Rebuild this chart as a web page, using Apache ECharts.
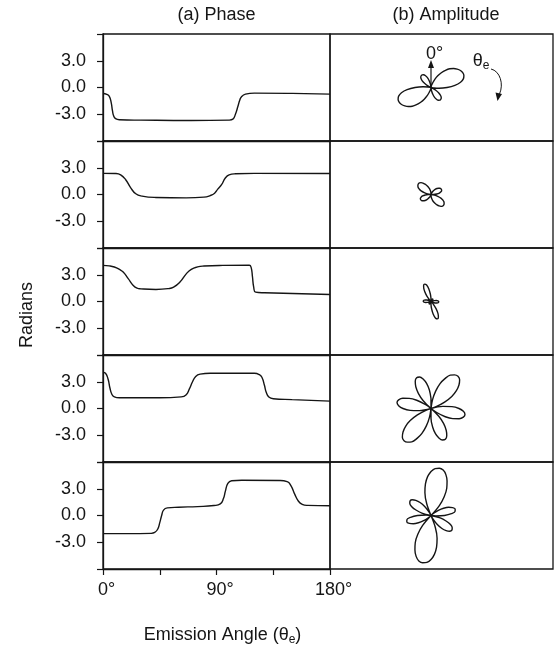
<!DOCTYPE html>
<html>
<head>
<meta charset="utf-8">
<script src="https://cdn.jsdelivr.net/npm/echarts@6/dist/echarts.min.js"></script>
<style>
html, body { margin: 0; padding: 0; background: #fff; }
#chart { width: 554px; height: 651px; }
</style>
</head>
<body>
<div id="chart"></div>
<script>
// 相位曲线：[出射角 (度), 相位 (弧度)]
const phase1 = [[0, -0.68], [3, -0.78], [5, -1.0], [6.5, -1.7], [7.5, -2.6], [8.5, -3.2], [10, -3.5], [13, -3.62],
    [30, -3.66], [70, -3.7], [100, -3.66], [103, -3.55], [105, -3.0], [107, -2.1], [108.5, -1.4], [110, -1.0],
    [113, -0.75], [120, -0.63], [150, -0.66], [180, -0.74]];
const phase2 = [[0, 2.37], [10, 2.35], [14, 2.2], [18, 1.65], [22, 0.75], [26, 0.08], [31, -0.18], [42, -0.33],
    [66, -0.38], [80, -0.3], [85, -0.12], [88.5, 0.15], [91, 0.6], [94, 1.1], [97, 1.85], [100, 2.2], [105, 2.32],
    [120, 2.37], [180, 2.36]];
const phase3 = [[0, 4.05], [5, 4.0], [9, 3.87], [13, 3.6], [16, 3.3], [20, 2.56], [24, 1.8], [27, 1.5], [30, 1.42],
    [42, 1.35], [52, 1.45], [56, 1.62], [61, 2.18], [66, 3.1], [70, 3.6], [75, 3.88], [80, 3.98], [95, 4.05],
    [116, 4.07], [117.5, 3.8], [118.5, 2.8], [119.5, 1.6], [121, 1.05], [128, 0.98], [180, 0.79]];
const phase4 = [[0, 4.05], [2, 3.95], [4, 3.3], [5.5, 2.3], [7, 1.6], [9, 1.3], [13, 1.2], [45, 1.2], [62, 1.3],
    [66, 1.55], [68.5, 2.2], [71, 3.0], [73.5, 3.6], [77, 3.85], [85, 3.95], [120, 3.95], [124, 3.8], [126, 3.5],
    [128, 2.6], [129.5, 1.8], [131.5, 1.3], [135, 1.1], [150, 1.0], [180, 0.83]];
const phase5 = [[0, -2.03], [20, -2.03], [38, -2.0], [41, -1.9], [43.5, -1.5], [45, -0.8], [46.5, 0.0], [48, 0.6],
    [51, 0.85], [60, 0.93], [75, 1.0], [88, 1.12], [93, 1.3], [95.5, 1.9], [97, 2.7], [99, 3.6], [102, 3.9],
    [110, 3.95], [140, 3.92], [146, 3.8], [149, 3.35], [152, 2.4], [155, 1.6], [158, 1.25], [162, 1.13], [180, 1.09]];

// 振幅极坐标图：角度 0-175°，θ+180° 处取同样的值
const ampAngles = [0, 5, 10, 15, 20, 25, 30, 35, 40, 45, 50, 55, 60, 65, 70, 75, 80, 85,
    90, 95, 100, 105, 110, 115, 120, 125, 130, 135, 140, 145, 150, 155, 160, 165, 170, 175];
const amp1 = [0.5, 0, 1, 2.5, 5, 9, 13.5, 18, 22.5, 26.5, 29.5, 32, 34, 35, 35, 33.5, 30, 24,
    16, 8, 3, 1, 0, 2, 5.5, 9.5, 12.5, 14.5, 15.3, 15.5, 14.8, 13, 10.5, 7, 3.5, 1];
const amp2 = [1.3, 0.5, 0, 0.3, 0.8, 2, 3.5, 5.2, 7, 8.5, 9.8, 10.8, 11.4, 11.6, 11.3, 10.3, 8.5, 5.8,
    2.8, 0, 3.5, 7, 10.5, 13, 15, 16, 16.5, 16.3, 15.5, 14, 12, 10, 8, 6, 4, 2.5];
const amp3 = [3, 0, 0.3, 0.6, 1.2, 2, 2.6, 3, 3.2, 3, 2.5, 1.7, 0.8, 0, 1.5, 3.5, 5.5, 7,
    7.7, 7.8, 7.3, 6, 4.2, 2.3, 0.8, 0, 0.3, 0.8, 4, 9, 14, 17.5, 18.5, 17, 13, 7.5];
const amp4 = [10, 0, 9, 18, 26.5, 33, 38.5, 41, 42, 40.5, 36.5, 31, 24, 15, 6, 0, 12, 21,
    28, 32.5, 34.5, 33.5, 30, 24, 16.5, 7, 0, 11, 19.5, 26.5, 31.5, 34, 33.5, 30.5, 25.5, 18.5];
const amp5 = [44, 47, 48, 47, 43.5, 38, 31.5, 23, 13, 0, 4, 9, 14.5, 19.5, 23, 25, 24.5, 20.5,
    13.5, 5, 0, 9.5, 16, 21.5, 24.5, 25.5, 24.5, 21.5, 17, 11, 4.5, 0, 12.5, 23.5, 32, 39];

// 刻度标签
const yLabelValues = [-3, 0, 3];
const xLabelValues = [0, 90, 180];

const phaseRows = [phase1, phase2, phase3, phase4, phase5];
const ampRows = [amp1, amp2, amp3, amp4, amp5];

const FONT = '"Liberation Sans", Arial, Helvetica, sans-serif';
const INK = '#151515';
const TOP = 34;
const ROW_H = 107;

// 振幅数据转成极坐标 [r, θ]
function polarData(amp) {
    const data = [];
    for (let k = 0; k < 2; k++) {
        for (let i = 0; i < ampAngles.length; i++) {
            data.push([amp[i], ampAngles[i] + k * 180]);
        }
    }
    data.push([amp[0], 360]);
    return data;
}

const grid = [];
const xAxis = [];
const yAxis = [];
const polar = [];
const angleAxis = [];
const radiusAxis = [];
const series = [];

for (let i = 0; i < 5; i++) {
    const top = TOP + i * ROW_H;
    const last = i === 4;
    // 左：相位
    grid.push({
        left: 103, top: top, width: 227, height: ROW_H,
        show: true, borderColor: INK, borderWidth: 1.3,
        containLabel: false, outerBoundsMode: 'none'
    });
    xAxis.push({
        gridIndex: i, type: 'value', min: 0, max: 180, interval: 45,
        axisLine: { show: true, onZero: false, lineStyle: { color: INK, width: 1.3 } },
        axisTick: { show: last, length: 6, lineStyle: { color: INK, width: 1.2 } },
        axisLabel: {
            show: last, margin: 12, fontSize: 18, color: INK, fontFamily: FONT,
            padding: [0, 0, 0, 7], showMinLabel: true, showMaxLabel: true,
            formatter: v => xLabelValues.includes(v) ? v + '°' : ''
        },
        splitLine: { show: false }
    });
    yAxis.push({
        gridIndex: i, type: 'value', min: -6, max: 6, interval: 3,
        axisLine: { show: true, onZero: false, lineStyle: { color: INK, width: 1.3 } },
        axisTick: { show: true, length: 6, lineStyle: { color: INK, width: 1.2 } },
        axisLabel: {
            margin: 17, fontSize: 18, color: INK, fontFamily: FONT,
            showMinLabel: true, showMaxLabel: true,
            formatter: v => yLabelValues.includes(v) ? v.toFixed(1) : ''
        },
        splitLine: { show: false }
    });
    series.push({
        type: 'line', xAxisIndex: i, yAxisIndex: i,
        data: phaseRows[i], symbol: 'none', smooth: 0.5,
        lineStyle: { color: INK, width: 1.4 }, silent: true
    });

    // 右：振幅
    polar.push({ center: [431, top + ROW_H / 2], radius: 50 });
    angleAxis.push({ polarIndex: i, type: 'value', min: 0, max: 360, startAngle: 90, clockwise: true, show: false });
    radiusAxis.push({ polarIndex: i, type: 'value', min: 0, max: 50, show: false });
    series.push({
        type: 'line', coordinateSystem: 'polar', polarIndex: i,
        data: polarData(ampRows[i]), symbol: 'none', smooth: 0.35,
        lineStyle: { color: INK, width: 1.4 }, silent: true
    });
}

// 右侧边框
for (let i = 0; i < 5; i++) {
    grid.push({
        left: 330, top: TOP + i * ROW_H, width: 223, height: ROW_H,
        show: true, borderColor: INK, borderWidth: 1.3,
        containLabel: false, outerBoundsMode: 'none'
    });
    xAxis.push({ gridIndex: 5 + i, type: 'value', show: false, min: 0, max: 1 });
    yAxis.push({ gridIndex: 5 + i, type: 'value', show: false, min: 0, max: 1 });
}

const textStyle = { font: '18px ' + FONT, fill: INK, align: 'center', verticalAlign: 'middle' };

const graphic = [
    { type: 'text', x: 216.5, y: 15, style: Object.assign({ text: '(a) Phase' }, textStyle) },
    { type: 'text', x: 446, y: 15, style: Object.assign({ text: '(b) Amplitude' }, textStyle) },
    { type: 'text', x: 27, y: 315, rotation: Math.PI / 2, style: Object.assign({ text: 'Radians' }, textStyle) },
    {
        type: 'text', x: 222.5, y: 635,
        style: {
            text: '{a|Emission Angle (θ}{b|e}{a|)}', align: 'center', verticalAlign: 'middle',
            rich: {
                a: { fontSize: 18, fontFamily: FONT, fill: INK, color: INK },
                b: { fontSize: 12, fontFamily: FONT, fill: INK, color: INK, padding: [9, 0, 0, 0] }
            }
        }
    },
    // 0° 方向箭头
    { type: 'text', x: 434.5, y: 54, style: Object.assign({ text: '0°' }, textStyle) },
    { type: 'line', shape: { x1: 431, y1: 87, x2: 431, y2: 66 }, style: { stroke: INK, lineWidth: 1.2 } },
    { type: 'polygon', shape: { points: [[431, 60], [428, 68], [434, 68]] }, style: { fill: INK } },
    // θe 旋转方向
    {
        type: 'text', x: 481, y: 61,
        style: {
            text: '{a|θ}{b|e}', align: 'center', verticalAlign: 'middle',
            rich: {
                a: { fontSize: 18, fontFamily: FONT, fill: INK, color: INK },
                b: { fontSize: 12, fontFamily: FONT, fill: INK, color: INK, padding: [9, 0, 0, 0] }
            }
        }
    },
    {
        type: 'bezierCurve',
        shape: { x1: 491, y1: 69, cpx1: 500, cpy1: 71, cpx2: 504, cpy2: 84, x2: 499.5, y2: 94 },
        style: { stroke: INK, lineWidth: 1, fill: null }
    },
    { type: 'polygon', shape: { points: [[497.5, 101], [495.5, 92.5], [502, 94]] }, style: { fill: INK } }
];

const chart = echarts.init(document.getElementById('chart'));
chart.setOption({
    animation: false,
    backgroundColor: '#fff',
    grid: grid,
    xAxis: xAxis,
    yAxis: yAxis,
    polar: polar,
    angleAxis: angleAxis,
    radiusAxis: radiusAxis,
    series: series,
    graphic: graphic
});
</script>
</body>
</html>
